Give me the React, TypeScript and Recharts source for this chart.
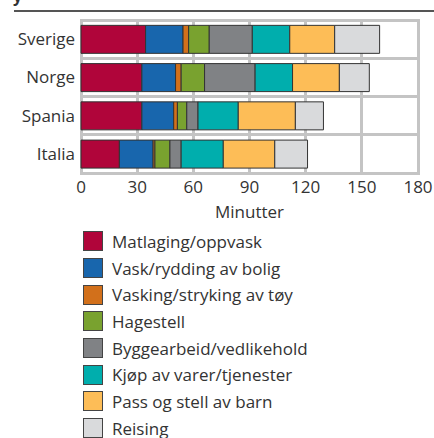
import { BarChart, Bar, XAxis, YAxis } from "recharts";

const countries = ["Sverige", "Norge", "Spania", "Italia"];

const activities = [
  "Matlaging/oppvask",
  "Vask/rydding av bolig",
  "Vasking/stryking av tøy",
  "Hagestell",
  "Byggearbeid/vedlikehold",
  "Kjøp av varer/tjenester",
  "Pass og stell av barn",
  "Reising",
];

const COLOURS = [
  "#b0053a",
  "#1866ad",
  "#d2701b",
  "#79a22f",
  "#808285",
  "#00aead",
  "#fdbd57",
  "#d9dadc",
];

// minutes per activity, one array per activity, in country order
const matlaging = [34.5, 32.5, 32.5, 20.5];
const vask = [20, 18, 17, 18];
const toy = [3, 3, 2, 1];
const hage = [11, 12.5, 5, 8];
const bygg = [23, 27, 6, 6];
const kjop = [20, 20, 21.5, 22.5];
const barn = [24, 25, 30.5, 27.5];
const reising = [24, 16, 15, 17.5];

const series = [matlaging, vask, toy, hage, bygg, kjop, barn, reising];
const xTicks = [0, 30, 60, 90, 120, 150, 180];
const X_MAX = 180;

const data = countries.map((c, i) => {
  const row: Record<string, string | number> = { country: c };
  activities.forEach((a, j) => {
    row[a] = series[j][i];
  });
  return row;
});

const FONT = "'Open Sans', sans-serif";
const GRID = "#c4c4c4";

const CHART_W = 434;
const CHART_H = 225;
const MARGIN = { top: 20, right: 16, bottom: 5, left: 11 };
const X_AXIS_H = 47;
const Y_AXIS_W = 70;
const plotLeft = MARGIN.left + Y_AXIS_W;
const plotW = CHART_W - plotLeft - MARGIN.right;
const plotH = CHART_H - MARGIN.top - MARGIN.bottom - X_AXIS_H;

// background grid (html), behind the transparent chart svg
function Grid() {
  const xs = xTicks.map((t) => plotLeft + (plotW * t) / X_MAX);
  const ys = countries
    .map((_, i) => i)
    .concat(countries.length)
    .map((i) => MARGIN.top + (plotH * i) / countries.length);
  return (
    <div
      style={{
        position: "absolute",
        left: 0,
        top: 0,
        width: CHART_W,
        height: CHART_H,
        zIndex: 0,
      }}
    >
      {xs.map((x) => (
        <div
          key={"v" + x}
          style={{
            position: "absolute",
            left: x - 1.5,
            top: MARGIN.top - 1.5,
            width: 3,
            height: plotH + 3,
            background: GRID,
          }}
        />
      ))}
      {ys.map((y) => (
        <div
          key={"h" + y}
          style={{
            position: "absolute",
            left: plotLeft,
            top: y - 1.5,
            width: plotW,
            height: 3,
            background: GRID,
          }}
        />
      ))}
    </div>
  );
}

export default function App() {
  return (
    <div
      style={{
        position: "fixed",
        top: 0,
        left: 0,
        width: 434,
        height: 438,
        background: "#fff",
        overflow: "hidden",
        fontFamily: FONT,
        color: "#333",
      }}
    >
      <div
        style={{
          position: "absolute",
          left: 13,
          top: -15,
          fontSize: 16,
          fontWeight: 700,
          color: "#333",
        }}
      >
        y
      </div>
      <div
        style={{
          position: "absolute",
          left: 14,
          top: 10,
          width: 420,
          height: 2,
          background: "#555",
        }}
      />
      <Grid />
      <div
        style={{
          position: "absolute",
          left: 0,
          top: 0,
          zIndex: 1,
          background: "transparent",
        }}
      >
        <BarChart
          width={CHART_W}
          height={CHART_H}
          data={data}
          layout="vertical"
          margin={MARGIN}
          barCategoryGap="14%"
          style={{ background: "transparent" }}
        >
          <XAxis
            type="number"
            domain={[0, X_MAX]}
            ticks={xTicks}
            axisLine={false}
            tickLine={false}
            tickSize={0}
            tickMargin={8}
            tick={{ fill: "#333", fontSize: 17, fontFamily: FONT }}
            height={X_AXIS_H}
            label={{
              value: "Minutter",
              position: "insideBottom",
              offset: 2,
              fill: "#333",
              fontSize: 17,
              fontFamily: FONT,
            }}
          />
          <YAxis
            type="category"
            dataKey="country"
            width={Y_AXIS_W}
            axisLine={false}
            tickLine={false}
            tickSize={0}
            tickMargin={6}
            tick={{ fill: "#333", fontSize: 17, fontFamily: FONT }}
          />
          {activities.map((a, i) => (
            <Bar
              key={a}
              dataKey={a}
              stackId="a"
              fill={COLOURS[i]}
              stroke="#333"
              strokeWidth={1}
              isAnimationActive={false}
            />
          ))}
        </BarChart>
      </div>
      {/* Legend */}
      <div style={{ position: "absolute", left: 83, top: 228 }}>
        {activities.map((a, i) => (
          <div
            key={a}
            style={{
              display: "flex",
              alignItems: "center",
              height: 26.7,
              fontSize: 17,
            }}
          >
            <div
              style={{
                width: 20,
                height: 20,
                background: COLOURS[i],
                border: "1px solid #444",
                boxSizing: "border-box",
                marginRight: 9,
                flexShrink: 0,
              }}
            />
            <span>{a}</span>
          </div>
        ))}
      </div>
    </div>
  );
}
